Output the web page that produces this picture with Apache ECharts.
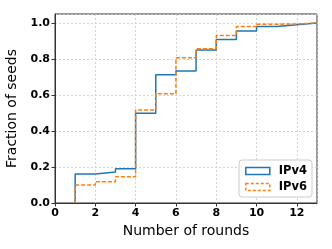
<!DOCTYPE html>
<html><head><meta charset="utf-8">
<script src="https://cdn.jsdelivr.net/npm/echarts@6/dist/echarts.min.js"></script>
<style>html,body{margin:0;padding:0;background:#fff}#c{width:332px;height:249px}</style>
</head><body><div id="c"></div>
<script>
const rounds = [1, 2, 3, 4, 5, 6, 7, 8, 9, 10, 11, 12, 13];
const ipv4 = [0.161, 0.172, 0.19, 0.498, 0.713, 0.733, 0.85, 0.909, 0.955, 0.98, 0.99, 1.0, 1.0];
const ipv6 = [0.10, 0.118, 0.146, 0.517, 0.607, 0.807, 0.857, 0.93, 0.98, 0.993, 0.995, 1.0, 1.0];
const xTicks = [0, 2, 4, 6, 8, 10, 12];
const yTicks = [0.0, 0.2, 0.4, 0.6, 0.8, 1.0];

function toData(vals) {
  const d = [[rounds[0], 0]];
  rounds.forEach((r, i) => d.push([r, vals[i]]));
  return d;
}
const font = 'DejaVu Sans';
const chart = echarts.init(document.getElementById('c'), null, {renderer: 'canvas'});
chart.setOption({
  animation: false,
  backgroundColor: '#fff',
  grid: {left: 55, right: 15, top: 14, bottom: 46, containLabel: false, outerBoundsMode: 'none',
    show: true, borderColor: '#333', borderWidth: 1, backgroundColor: 'transparent'},
  xAxis: {
    type: 'value', min: 0, max: 13, interval: 2,
    name: 'Number of rounds', nameLocation: 'middle', nameGap: 19,
    nameTextStyle: {fontFamily: font, fontSize: 14, color: '#000'},
    axisLine: {show: true, lineStyle: {color: '#333', width: 1}},
    axisTick: {show: true, length: 3.5, lineStyle: {color: '#333'}},
    axisLabel: {fontFamily: font, fontWeight: 'bold', fontSize: 11, color: '#000', margin: 5, showMaxLabel: false,
      formatter: v => xTicks.includes(v) ? String(v) : ''},
    splitLine: {show: true, lineStyle: {color: '#c8c8c8', type: [2, 2], width: 0.8}}
  },
  yAxis: {
    type: 'value', min: 0, max: 1.05, interval: 0.2,
    name: 'Fraction of seeds', nameLocation: 'middle', nameGap: 31,
    nameTextStyle: {fontFamily: font, fontSize: 14, color: '#000'},
    axisLine: {show: true, lineStyle: {color: '#333', width: 1}},
    axisTick: {show: true, length: 3.5, lineStyle: {color: '#333'}},
    axisLabel: {fontFamily: font, fontWeight: 'bold', fontSize: 11, color: '#000', margin: 5, showMaxLabel: false,
      formatter: v => { const t = yTicks.find(y => Math.abs(y - v) < 1e-6); return t === undefined ? '' : t.toFixed(1); }},
    splitLine: {show: true, lineStyle: {color: '#c8c8c8', type: [2, 2], width: 0.8}}
  },
  legend: {
    right: 20, top: 160, orient: 'vertical', itemWidth: 24, itemHeight: 7, itemGap: 4,
    backgroundColor: '#fff', borderColor: '#ccc', borderWidth: 1, borderRadius: 3, padding: [5, 5, 4, 6],
    textStyle: {fontFamily: font, fontWeight: 'bold', fontSize: 11.5, color: '#000', padding: [0, 0, 0, 4]},
    data: [
      {name: 'IPv4', icon: 'rect', itemStyle: {color: 'transparent', borderColor: '#1f77b4', borderWidth: 1.5, borderType: 'solid'}},
      {name: 'IPv6', icon: 'rect', itemStyle: {color: 'transparent', borderColor: '#ff7f0e', borderWidth: 1.5, borderType: [3, 2]}}
    ]
  },
  series: [
    {name: 'IPv4', type: 'line', step: 'end', data: toData(ipv4), showSymbol: false, symbol: 'none',
      lineStyle: {color: '#1f77b4', width: 1.5}, itemStyle: {color: '#1f77b4'}, z: 2},
    {name: 'IPv6', type: 'line', step: 'end', data: toData(ipv6), showSymbol: false, symbol: 'none',
      lineStyle: {color: '#ff7f0e', width: 1.5, type: [4, 2]}, itemStyle: {color: '#ff7f0e'}, z: 3}
  ]
});
</script></body></html>
